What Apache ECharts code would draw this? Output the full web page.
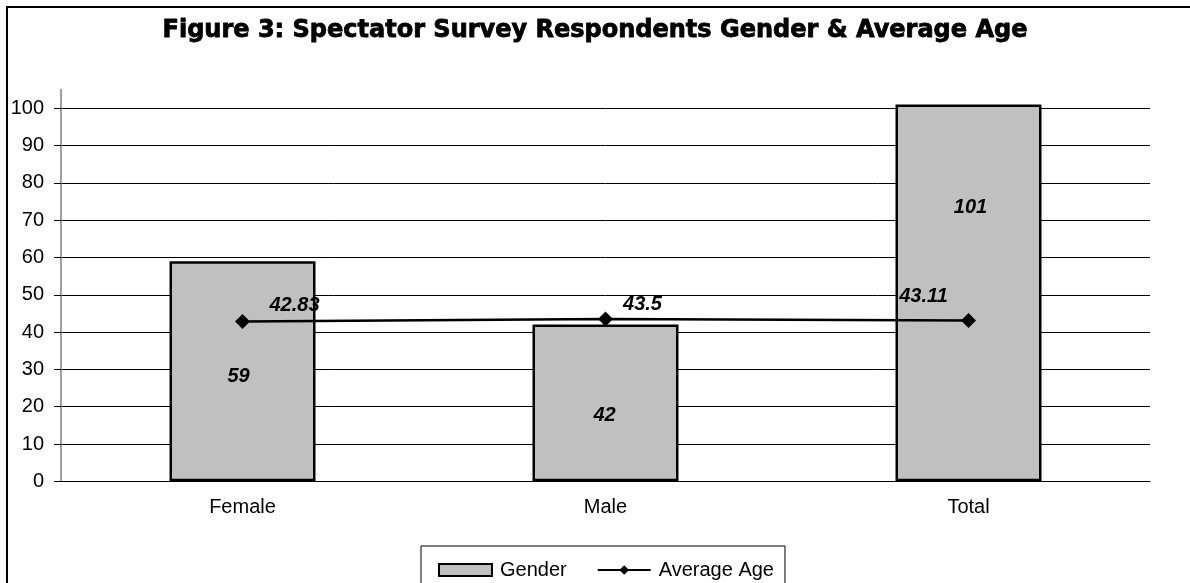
<!DOCTYPE html>
<html>
<head>
<meta charset="utf-8">
<script src="https://cdn.jsdelivr.net/npm/echarts@6/dist/echarts.min.js"></script>
<style>
  html, body { margin: 0; padding: 0; background: #fff; }
  #chart { width: 1190px; height: 583px; }
</style>
</head>
<body>
<div id="chart"></div>
<script>
window.addEventListener('load', function () {

    // data
    let categories = ['Female', 'Male', 'Total']
    let gender = [59, 42, 101]
    let averageAge = [42.83, 43.5, 43.11]
    let yTicks = [0, 10, 20, 30, 40, 50, 60, 70, 80, 90, 100]

    // hand-placed labels, as in the original
    let barLabelOffsets = [[-4, 5], [-1, 13], [2, -85]]
    let ageLabelOffsets = [[52, -16], [37, -15], [-45, -24]]

    let font = 'Liberation Sans, Arial, sans-serif'
    let valueLabel = {
        show: true,
        position: 'inside',
        color: '#000',
        fontFamily: font,
        fontSize: 20,
        fontWeight: 'bold',
        fontStyle: 'italic'
    }

    let chart = echarts.init(document.getElementById('chart'))
    chart.setOption({
        animation: false,
        backgroundColor: '#fff',
        textStyle: { fontFamily: font },
        title: {
            text: 'Figure 3: Spectator Survey Respondents Gender & Average Age',
            left: 'center',
            top: 14,
            textStyle: {
                fontFamily: 'DejaVu Sans',
                fontWeight: 'bold',
                fontSize: 24,
                color: '#000',
                textBorderColor: '#000',
                textBorderWidth: 0.8
            }
        },
        graphic: [{
            type: 'rect',
            shape: { x: 7, y: 7, width: 1200, height: 600 },
            style: { fill: 'none', stroke: '#000', lineWidth: 2 },
            silent: true
        }],
        legend: {
            left: 421,
            top: 546,
            padding: [14, 11, 20, 17],
            itemGap: 30,
            itemWidth: 53,
            itemHeight: 12,
            borderColor: '#000',
            borderWidth: 1,
            textStyle: { fontSize: 20, color: '#000', fontFamily: font, padding: [0, 0, 0, 3] },
            data: [{ name: 'Gender', icon: 'rect' }, { name: 'Average Age' }]
        },
        grid: { left: 61, right: 40, top: 89.6, bottom: 101.7 },
        xAxis: {
            type: 'category',
            data: categories,
            axisLine: { lineStyle: { color: '#000', width: 1 } },
            axisTick: { length: 6, lineStyle: { color: '#000' } },
            axisLabel: { color: '#000', fontSize: 20, margin: 16 }
        },
        yAxis: {
            type: 'value',
            min: 0,
            max: 105,
            interval: 10,
            axisLine: { show: true, lineStyle: { color: '#808080', width: 1.5 } },
            axisTick: { show: true, length: 7, customValues: yTicks, lineStyle: { color: '#000' } },
            axisLabel: { color: '#000', fontSize: 20, margin: 17, customValues: yTicks },
            splitLine: { show: true, lineStyle: { color: '#000', width: 1 } }
        },
        series: [{
            name: 'Gender',
            type: 'bar',
            barWidth: 146,
            itemStyle: { color: '#c0c0c0', borderColor: '#000', borderWidth: 2.5 },
            data: gender.map((v, i) => ({
                value: v,
                label: Object.assign({}, valueLabel, { offset: barLabelOffsets[i] })
            })),
            z: 2
        }, {
            name: 'Average Age',
            type: 'line',
            color: '#000',
            symbol: 'diamond',
            symbolSize: 15,
            lineStyle: { color: '#000', width: 2.5 },
            itemStyle: { color: '#000' },
            data: averageAge.map((v, i) => ({
                value: v,
                label: Object.assign({}, valueLabel, { offset: ageLabelOffsets[i] })
            })),
            z: 3
        }]
    })

})
</script>
</body>
</html>
